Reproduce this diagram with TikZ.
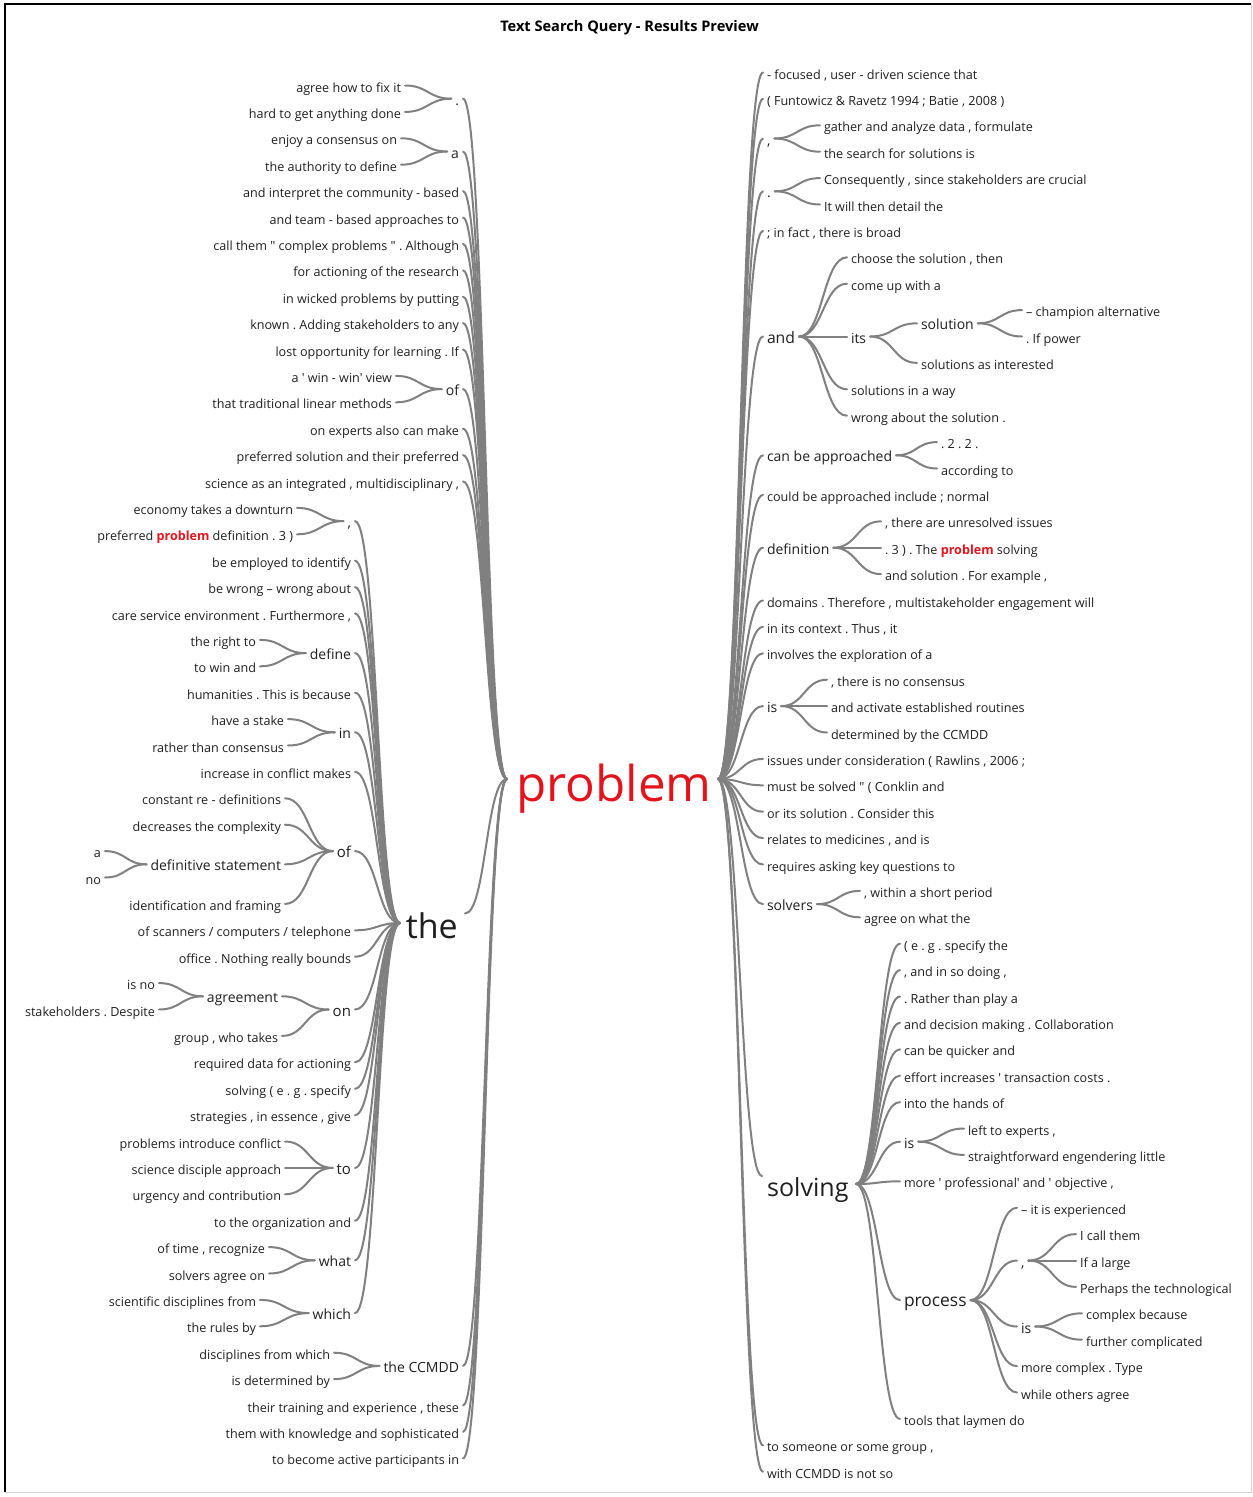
\documentclass[tikz,border=0pt]{standalone}
\usepackage{fontspec}
\setmainfont{Open Sans}[Ligatures=TeXOff]
\usetikzlibrary{calc}
\definecolor{txt}{RGB}{30,30,30}
\definecolor{lnk}{RGB}{128,128,128}
\definecolor{pred}{RGB}{228,20,28}
\frenchspacing
% curved connector from the right end of #1 to the left end of #2
\newcommand\wlink[2]{\draw[link] let \p1=([shift={(4pt,6.5pt)}]#1.base east), \p2=([shift={(-4pt,6.5pt)}]#2.base west) in (\p1) .. controls ({0.5*\x1+0.5*\x2},\y1) and ({0.5*\x1+0.5*\x2},\y2) .. (\p2);}
\begin{document}
\begin{tikzpicture}[x=1pt,y=-1pt,
  lf/.style={font=\fontsize{12.6}{15}\selectfont, text=txt, inner sep=0pt, outer sep=0pt, yshift=-5pt},
  L/.style={anchor=base east}, R/.style={anchor=base west},
  m/.style={font=\fontsize{14}{16}\selectfont},
  b/.style={font=\fontsize{15}{17}\selectfont},
  port/.style={inner sep=0pt, outer sep=0pt, minimum size=0pt, anchor=base},
  link/.style={draw=lnk, line width=2pt, line cap=round}]
\useasboundingbox (0,0) rectangle (1253,1497);
% frame
\draw[black, line width=1.6pt] (5,1492) -- (5,4) -- (1251,4);
\draw[black!18, line width=1pt] (1251,4) -- (1251,1492) -- (5,1492);
% title
\node[font=\bfseries\fontsize{14.6}{17}\selectfont, text=black] (title) at (629.5,28) {Text Search Query - Results Preview};

% root word
\node[anchor=base west, font=\fontsize{49.3}{52}\selectfont, text=pred, inner sep=0pt] (problem) at (516,801) {problem};
\node[port] (pL) at (511,785.5) {};
\node[port] (pR) at (714,785.5) {};

% ---------- left side ----------
\node[lf,L,m] (l0) at (459,100.2) {.};
\node[lf,L] (l0a) at (401,87) {agree how to fix it};
\node[lf,L] (l0b) at (401,113.4) {hard to get anything done};
\node[lf,L,m] (l1) at (459,153) {a};
\node[lf,L] (l1a) at (397,139.8) {enjoy a consensus on};
\node[lf,L] (l1b) at (397,166.2) {the authority to define};
\node[lf,L] (l2) at (459,192.6) {and interpret the community - based};
\node[lf,L] (l3) at (459,219) {and team - based approaches to};
\node[lf,L] (l4) at (459,245.4) {call them " complex problems " . Although};
\node[lf,L] (l5) at (459,271.8) {for actioning of the research};
\node[lf,L] (l6) at (459,298.2) {in wicked problems by putting};
\node[lf,L] (l7) at (459,324.6) {known . Adding stakeholders to any};
\node[lf,L] (l8) at (459,351) {lost opportunity for learning . If};
\node[lf,L,m] (l9) at (459,390.6) {of};
\node[lf,L] (l9a) at (392,377.4) {a ' win - win' view};
\node[lf,L] (l9b) at (392,403.8) {that traditional linear methods};
\node[lf,L] (l10) at (459,430.2) {on experts also can make};
\node[lf,L] (l11) at (459,456.6) {preferred solution and their preferred};
\node[lf,L] (l12) at (459,483) {science as an integrated , multidisciplinary ,};

\node[anchor=base east, font=\fontsize{34}{36}\selectfont, text=txt, inner sep=0pt] (the) at (458,938) {the};
\node[port] (tL) at (404,929.5) {};
\node[port] (tR) at (461,920) {};

\node[lf,L,m] (t0) at (351,522.6) {,};
\node[lf,L] (t0a) at (293,509.4) {economy takes a downturn};
\node[lf,L] (t0b) at (293,535.8) {preferred \textcolor{pred}{\bfseries problem} definition . 3 )};
\node[lf,L] (t1) at (351,562.2) {be employed to identify};
\node[lf,L] (t2) at (351,588.6) {be wrong – wrong about};
\node[lf,L] (t3) at (351,615) {care service environment . Furthermore ,};
\node[lf,L,m] (t4) at (351,654.6) {define};
\node[lf,L] (t4a) at (256,641.4) {the right to};
\node[lf,L] (t4b) at (256,667.8) {to win and};
\node[lf,L] (t5) at (351,694.2) {humanities . This is because};
\node[lf,L,m] (t6) at (351,733.8) {in};
\node[lf,L] (t6a) at (284,720.6) {have a stake};
\node[lf,L] (t6b) at (284,747) {rather than consensus};
\node[lf,L] (t7) at (351,773.4) {increase in conflict makes};
\node[lf,L,b] (t8) at (351,852.6) {of};
\node[lf,L] (t8a) at (281,799.8) {constant re - definitions};
\node[lf,L] (t8b) at (281,826.2) {decreases the complexity};
\node[lf,L,m] (t8c) at (281,865.8) {definitive statement};
\node[lf,L] (t8c1) at (101,852.6) {a};
\node[lf,L] (t8c2) at (101,879) {no};
\node[lf,L] (t8d) at (281,905.4) {identification and framing};
\node[lf,L] (t9) at (351,931.8) {of scanners / computers / telephone};
\node[lf,L] (t10) at (351,958.2) {office . Nothing really bounds};
\node[lf,L,b] (t11) at (351,1011) {on};
\node[lf,L,m] (t11a) at (278,997.8) {agreement};
\node[lf,L] (t11a1) at (155,984.6) {is no};
\node[lf,L] (t11a2) at (155,1011) {stakeholders . Despite};
\node[lf,L] (t11b) at (278,1037.4) {group , who takes};
\node[lf,L] (t12) at (351,1063.8) {required data for actioning};
\node[lf,L] (t13) at (351,1090.2) {solving ( e . g . specify};
\node[lf,L] (t14) at (351,1116.6) {strategies , in essence , give};
\node[lf,L,b] (t15) at (351,1169.4) {to};
\node[lf,L] (t15a) at (281,1143) {problems introduce conflict};
\node[lf,L] (t15b) at (281,1169.4) {science disciple approach};
\node[lf,L] (t15c) at (281,1195.8) {urgency and contribution};
\node[lf,L] (t16) at (351,1222.2) {to the organization and};
\node[lf,L,m] (t17) at (351,1261.8) {what};
\node[lf,L] (t17a) at (265,1248.6) {of time , recognize};
\node[lf,L] (t17b) at (265,1275) {solvers agree on};
\node[lf,L,m] (t18) at (351,1314.6) {which};
\node[lf,L] (t18a) at (256,1301.4) {scientific disciplines from};
\node[lf,L] (t18b) at (256,1327.8) {the rules by};

\node[lf,L,m] (l13) at (459,1367.4) {the CCMDD};
\node[lf,L] (l13a) at (330,1354.2) {disciplines from which};
\node[lf,L] (l13b) at (330,1380.6) {is determined by};
\node[lf,L] (l14) at (459,1407) {their training and experience , these};
\node[lf,L] (l15) at (459,1433.4) {them with knowledge and sophisticated};
\node[lf,L] (l16) at (459,1459.8) {to become active participants in};

% ---------- right side ----------
\node[lf,R] (r0) at (767,74) {- focused , user - driven science that};
\node[lf,R] (r1) at (767,100.4) {( Funtowicz \& Ravetz 1994 ; Batie , 2008 )};
\node[lf,R,m] (r2) at (767,140) {,};
\node[lf,R] (r2a) at (824,126.8) {gather and analyze data , formulate};
\node[lf,R] (r2b) at (824,153.2) {the search for solutions is};
\node[lf,R,m] (r3) at (767,192.8) {.};
\node[lf,R] (r3a) at (824,179.6) {Consequently , since stakeholders are crucial};
\node[lf,R] (r3b) at (824,206) {It will then detail the};
\node[lf,R] (r4) at (767,232.4) {; in fact , there is broad};
\node[lf,R,font=\fontsize{15.7}{18}\selectfont] (r5) at (767,338) {and};
\node[lf,R] (r5a) at (851,258.8) {choose the solution , then};
\node[lf,R] (r5b) at (851,285.2) {come up with a};
\node[lf,R,m] (r5c) at (851,338) {its};
\node[lf,R,m] (r5c1) at (921,324.8) {solution};
\node[lf,R] (r5c1a) at (1026,311.6) {– champion alternative};
\node[lf,R] (r5c1b) at (1026,338) {. If power};
\node[lf,R] (r5c2) at (921,364.4) {solutions as interested};
\node[lf,R] (r5d) at (851,390.8) {solutions in a way};
\node[lf,R] (r5e) at (851,417.2) {wrong about the solution .};
\node[lf,R,m] (r6) at (767,456.8) {can be approached};
\node[lf,R] (r6a) at (941,443.6) {. 2 . 2 .};
\node[lf,R] (r6b) at (941,470) {according to};
\node[lf,R] (r7) at (767,496.4) {could be approached include ; normal};
\node[lf,R,m] (r8) at (767,549.2) {definition};
\node[lf,R] (r8a) at (885,522.8) {, there are unresolved issues};
\node[lf,R] (r8b) at (885,549.2) {. 3 ) . The \textcolor{pred}{\bfseries problem} solving};
\node[lf,R] (r8c) at (885,575.6) {and solution . For example ,};
\node[lf,R] (r9) at (767,602) {domains . Therefore , multistakeholder engagement will};
\node[lf,R] (r10) at (767,628.4) {in its context . Thus , it};
\node[lf,R] (r11) at (767,654.8) {involves the exploration of a};
\node[lf,R,m] (r12) at (767,707.6) {is};
\node[lf,R] (r12a) at (831,681.2) {, there is no consensus};
\node[lf,R] (r12b) at (831,707.6) {and activate established routines};
\node[lf,R] (r12c) at (831,734) {determined by the CCMDD};
\node[lf,R] (r13) at (767,760.4) {issues under consideration ( Rawlins , 2006 ;};
\node[lf,R] (r14) at (767,786.8) {must be solved " ( Conklin and};
\node[lf,R] (r15) at (767,813.2) {or its solution . Consider this};
\node[lf,R] (r16) at (767,839.6) {relates to medicines , and is};
\node[lf,R] (r17) at (767,866) {requires asking key questions to};
\node[lf,R,m] (r18) at (767,905.6) {solvers};
\node[lf,R] (r18a) at (864,892.4) {, within a short period};
\node[lf,R] (r18b) at (864,918.8) {agree on what the};

\node[anchor=base west, font=\fontsize{25}{28}\selectfont, text=txt, inner sep=0pt] (solving) at (767,1196) {solving};
\node[port] (sL) at (766,1182.5) {};
\node[port] (sR) at (852,1190.5) {};
\node[lf,R] (s0) at (904,945.2) {( e . g . specify the};
\node[lf,R] (s1) at (904,971.6) {, and in so doing ,};
\node[lf,R] (s2) at (904,998) {. Rather than play a};
\node[lf,R] (s3) at (904,1024.4) {and decision making . Collaboration};
\node[lf,R] (s4) at (904,1050.8) {can be quicker and};
\node[lf,R] (s5) at (904,1077.2) {effort increases ' transaction costs .};
\node[lf,R] (s6) at (904,1103.6) {into the hands of};
\node[lf,R,m] (s7) at (904,1143.2) {is};
\node[lf,R] (s7a) at (968,1130) {left to experts ,};
\node[lf,R] (s7b) at (968,1156.4) {straightforward engendering little};
\node[lf,R] (s8) at (904,1182.8) {more ' professional' and ' objective ,};
\node[lf,R,font=\fontsize{17.4}{20}\selectfont] (s9) at (904,1301.6) {process};
\node[lf,R] (s9a) at (1021,1209.2) {– it is experienced};
\node[lf,R,m] (s9b) at (1021,1262) {,};
\node[lf,R] (s9b1) at (1080,1235.6) {I call them};
\node[lf,R] (s9b2) at (1080,1262) {If a large};
\node[lf,R] (s9b3) at (1080,1288.4) {Perhaps the technological};
\node[lf,R,m] (s9c) at (1021,1328) {is};
\node[lf,R] (s9c1) at (1086,1314.8) {complex because};
\node[lf,R] (s9c2) at (1086,1341.2) {further complicated};
\node[lf,R] (s9d) at (1021,1367.6) {more complex . Type};
\node[lf,R] (s9e) at (1021,1394) {while others agree};
\node[lf,R] (s10) at (904,1420.4) {tools that laymen do};
\node[lf,R] (r19) at (767,1446.8) {to someone or some group ,};
\node[lf,R] (r20) at (767,1473.2) {with CCMDD is not so};

% ---------- connectors ----------
\foreach \c in {l0,l1,l2,l3,l4,l5,l6,l7,l8,l9,l10,l11,l12,tR,l13,l14,l15,l16} {\wlink{\c}{pL}}
\foreach \c in {l0a,l0b} {\wlink{\c}{l0}}
\foreach \c in {l1a,l1b} {\wlink{\c}{l1}}
\foreach \c in {l9a,l9b} {\wlink{\c}{l9}}
\foreach \c in {l13a,l13b} {\wlink{\c}{l13}}
\foreach \c in {t0,t1,t2,t3,t4,t5,t6,t7,t8,t9,t10,t11,t12,t13,t14,t15,t16,t17,t18} {\wlink{\c}{tL}}
\foreach \c in {t0a,t0b} {\wlink{\c}{t0}}
\foreach \c in {t4a,t4b} {\wlink{\c}{t4}}
\foreach \c in {t6a,t6b} {\wlink{\c}{t6}}
\foreach \c in {t8a,t8b,t8c,t8d} {\wlink{\c}{t8}}
\foreach \c in {t8c1,t8c2} {\wlink{\c}{t8c}}
\foreach \c in {t11a,t11b} {\wlink{\c}{t11}}
\foreach \c in {t11a1,t11a2} {\wlink{\c}{t11a}}
\foreach \c in {t15a,t15b,t15c} {\wlink{\c}{t15}}
\foreach \c in {t17a,t17b} {\wlink{\c}{t17}}
\foreach \c in {t18a,t18b} {\wlink{\c}{t18}}

\foreach \c in {r0,r1,r2,r3,r4,r5,r6,r7,r8,r9,r10,r11,r12,r13,r14,r15,r16,r17,r18,sL,r19,r20} {\wlink{pR}{\c}}
\foreach \c in {r2a,r2b} {\wlink{r2}{\c}}
\foreach \c in {r3a,r3b} {\wlink{r3}{\c}}
\foreach \c in {r5a,r5b,r5c,r5d,r5e} {\wlink{r5}{\c}}
\foreach \c in {r5c1,r5c2} {\wlink{r5c}{\c}}
\foreach \c in {r5c1a,r5c1b} {\wlink{r5c1}{\c}}
\foreach \c in {r6a,r6b} {\wlink{r6}{\c}}
\foreach \c in {r8a,r8b,r8c} {\wlink{r8}{\c}}
\foreach \c in {r12a,r12b,r12c} {\wlink{r12}{\c}}
\foreach \c in {r18a,r18b} {\wlink{r18}{\c}}
\foreach \c in {s0,s1,s2,s3,s4,s5,s6,s7,s8,s9,s10} {\wlink{sR}{\c}}
\foreach \c in {s7a,s7b} {\wlink{s7}{\c}}
\foreach \c in {s9a,s9b,s9c,s9d,s9e} {\wlink{s9}{\c}}
\foreach \c in {s9b1,s9b2,s9b3} {\wlink{s9b}{\c}}
\foreach \c in {s9c1,s9c2} {\wlink{s9c}{\c}}
\end{tikzpicture}
\end{document}
